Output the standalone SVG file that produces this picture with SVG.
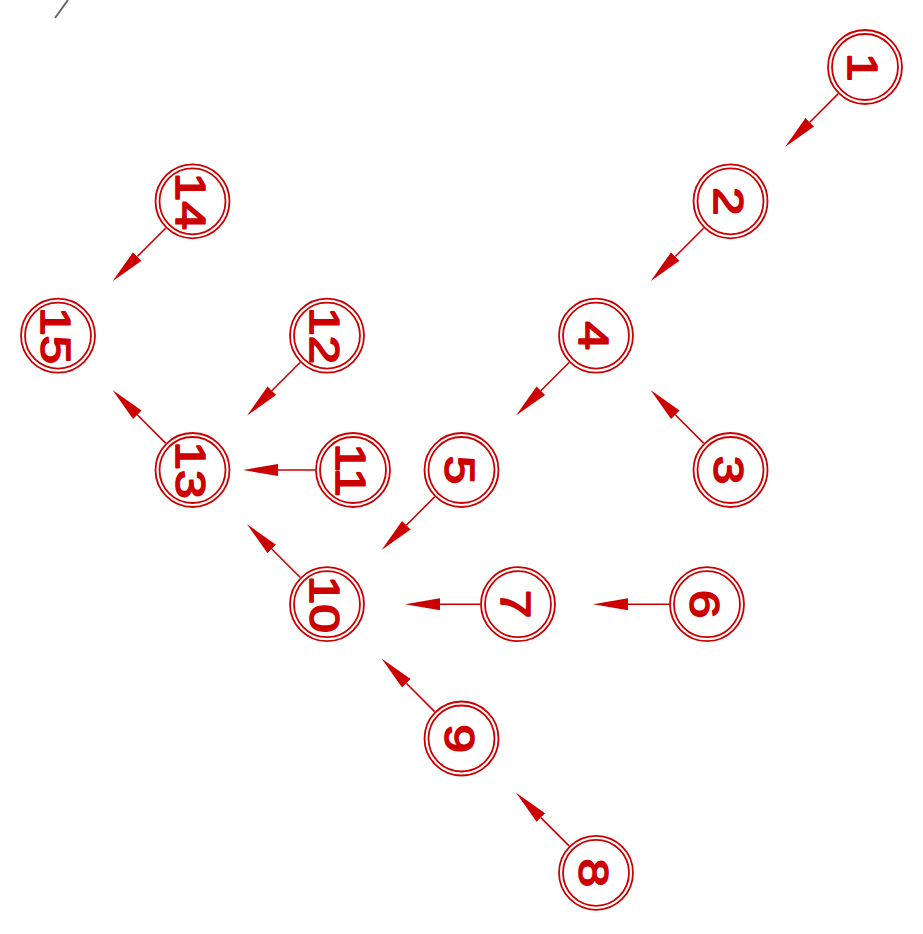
<svg xmlns="http://www.w3.org/2000/svg" width="923" height="934" viewBox="0 0 923 934">
<style>
.ring{fill:none;stroke:#cc0000;stroke-width:1.8}
.lbl{font-family:"Liberation Sans",Arial,sans-serif;font-weight:normal;font-size:43px;fill:#cc0000;stroke:#cc0000;stroke-width:1.6;stroke-linejoin:round;text-anchor:middle}
.edge{stroke:#cc0000;stroke-width:1.6;fill:none;marker-end:url(#ah)}
</style>
<defs>
<marker id="ah" markerUnits="userSpaceOnUse" markerWidth="36" markerHeight="14" viewBox="0 -7 36 14" refX="0" refY="0" orient="auto">
<path d="M0,-6 L35,0 L0,6 z" fill="#cc0000"/>
</marker>
<g id="node">
<circle class="ring" r="37"/>
<circle class="ring" r="33"/>
</g>
</defs>
<rect width="923" height="934" fill="#ffffff"/>
<line x1="55" y1="18" x2="68" y2="0" stroke="#666666" stroke-width="2"/>
<g id="connectors">
<line class="edge" x1="838.1" y1="93.9" x2="809.8" y2="122.2"/>
<line class="edge" x1="703.6" y1="228.2" x2="675.3" y2="256.5"/>
<line class="edge" x1="569.1" y1="362.5" x2="540.8" y2="390.8"/>
<line class="edge" x1="703.6" y1="443.1" x2="675.3" y2="414.8"/>
<line class="edge" x1="434.6" y1="496.9" x2="406.3" y2="525.2"/>
<line class="edge" x1="480" y1="604.2" x2="440" y2="604.2"/>
<line class="edge" x1="669" y1="604.2" x2="628" y2="604.2"/>
<line class="edge" x1="434.6" y1="711.6" x2="406.3" y2="683.3"/>
<line class="edge" x1="569.1" y1="845.9" x2="540.8" y2="817.6"/>
<line class="edge" x1="300.1" y1="577.3" x2="271.8" y2="549"/>
<line class="edge" x1="315" y1="470" x2="278" y2="470"/>
<line class="edge" x1="300.1" y1="362.5" x2="271.8" y2="390.8"/>
<line class="edge" x1="165.6" y1="443.1" x2="137.3" y2="414.8"/>
<line class="edge" x1="165.6" y1="228.2" x2="137.3" y2="256.5"/>
</g>
<g id="n1" transform="translate(865,67)"><use href="#node"/><text class="lbl" transform="rotate(90) scale(1.2,1)" y="16.5">1</text></g>
<g id="n2" transform="translate(730.5,201.3)"><use href="#node"/><text class="lbl" transform="rotate(90) scale(1.2,1)" y="16.5">2</text></g>
<g id="n3" transform="translate(730.5,470)"><use href="#node"/><text class="lbl" transform="rotate(90) scale(1.2,1)" y="16.5">3</text></g>
<g id="n4" transform="translate(596,335.6)"><use href="#node"/><text class="lbl" transform="rotate(90) scale(1.2,1)" y="16.5">4</text></g>
<g id="n5" transform="translate(461.5,470)"><use href="#node"/><text class="lbl" transform="rotate(90) scale(1.2,1)" y="16.5">5</text></g>
<g id="n6" transform="translate(707,604.2)"><use href="#node"/><text class="lbl" transform="rotate(90) scale(1.2,1)" y="16.5">6</text></g>
<g id="n7" transform="translate(518,604.2)"><use href="#node"/><text class="lbl" transform="rotate(90) scale(1.2,1)" y="16.5">7</text></g>
<g id="n8" transform="translate(596,872.8)"><use href="#node"/><text class="lbl" transform="rotate(90) scale(1.2,1)" y="16.5">8</text></g>
<g id="n9" transform="translate(461.5,738.5)"><use href="#node"/><text class="lbl" transform="rotate(90) scale(1.2,1)" y="16.5">9</text></g>
<g id="n10" transform="translate(327,604.2)"><use href="#node"/><text class="lbl" transform="rotate(90) scale(1.2,1)" y="16.5">10</text></g>
<g id="n11" transform="translate(353,470)"><use href="#node"/><text class="lbl" transform="rotate(90) scale(1.2,1)" y="16.5">11</text></g>
<g id="n12" transform="translate(327,335.6)"><use href="#node"/><text class="lbl" transform="rotate(90) scale(1.2,1)" y="16.5">12</text></g>
<g id="n13" transform="translate(192.5,470)"><use href="#node"/><text class="lbl" transform="rotate(90) scale(1.2,1)" y="16.5">13</text></g>
<g id="n14" transform="translate(192.5,201.3)"><use href="#node"/><text class="lbl" transform="rotate(90) scale(1.2,1)" y="16.5">14</text></g>
<g id="n15" transform="translate(58,335.6)"><use href="#node"/><text class="lbl" transform="rotate(90) scale(1.2,1)" y="16.5">15</text></g>
</svg>
